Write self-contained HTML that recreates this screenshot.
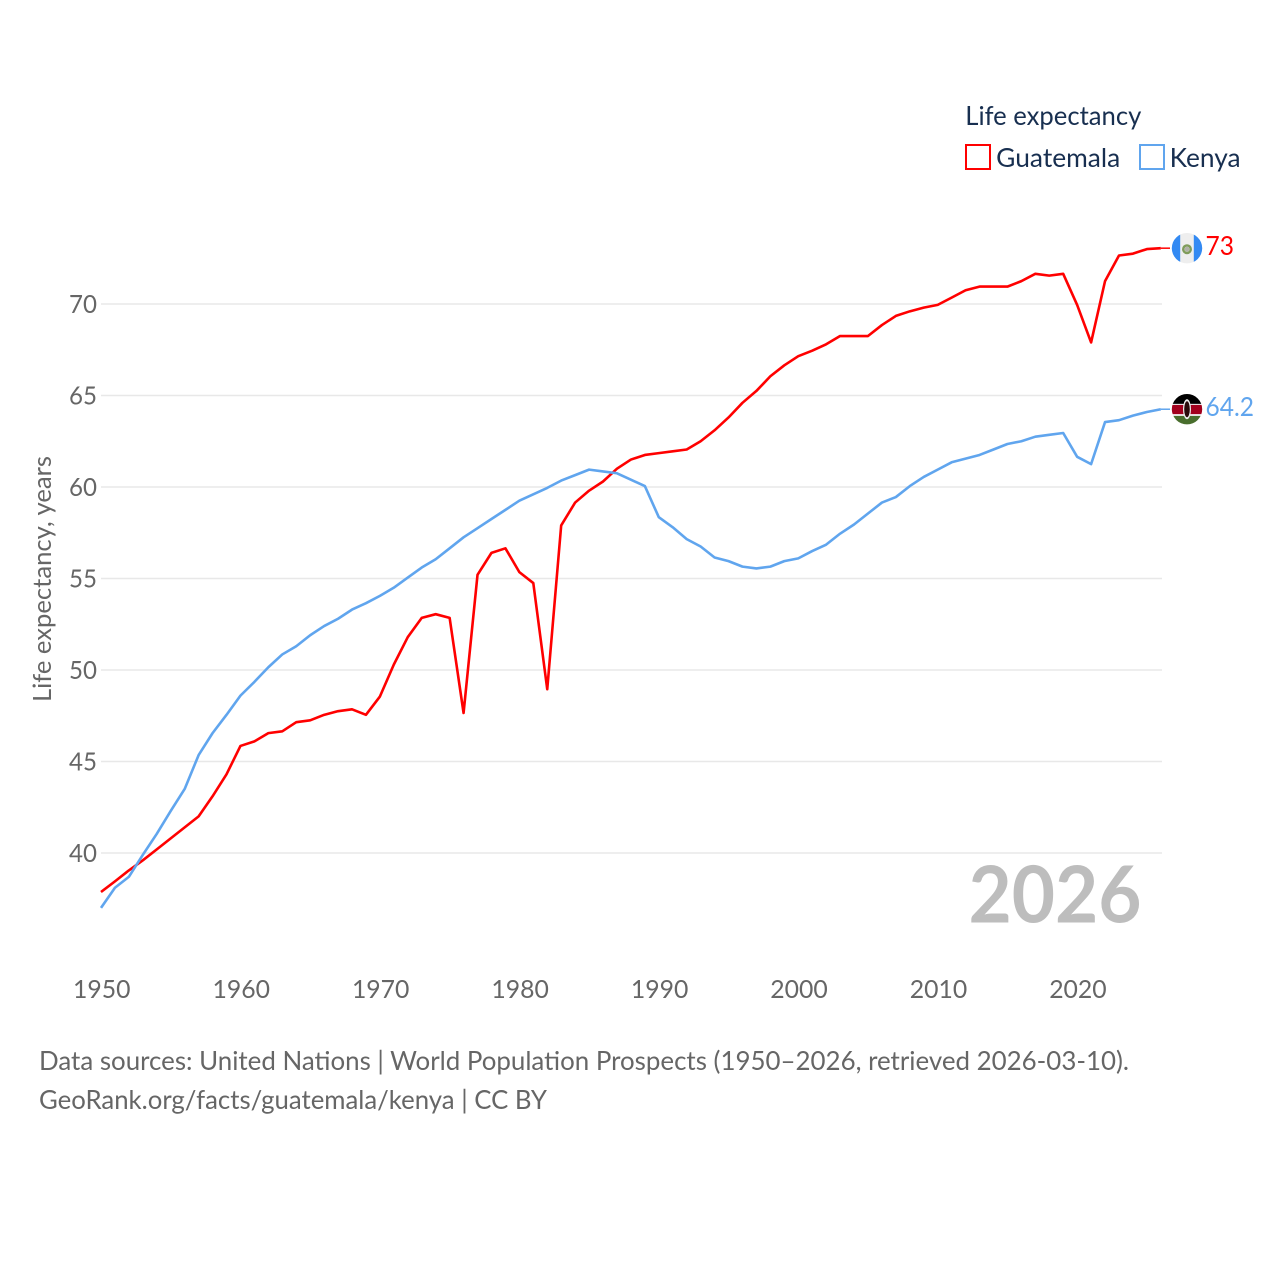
<!DOCTYPE html>
<html lang="en">
<head>
<meta charset="utf-8">
<title>Life expectancy: Guatemala and Kenya</title>
<style>
html,body{margin:0;padding:0;background:#fff;width:1280px;height:1280px;overflow:hidden}
svg{display:block}
text{font-family:Lato,Carlito,"Liberation Sans",sans-serif}
</style>
</head>
<body>
<svg id="chart" xmlns="http://www.w3.org/2000/svg" width="1280" height="1280" viewBox="0 0 1280 1280">
  <defs>
    <clipPath id="flag-clip"><circle cx="0" cy="0" r="15.2"/></clipPath>
  </defs>
  <rect x="0" y="0" width="1280" height="1280" fill="#fff"/>
  <g id="grid"></g>
  <g id="yticks"></g>
  <g id="xticks"></g>
  <text transform="translate(51,702) rotate(-90)" font-size="25.5" fill="#666" textLength="246" lengthAdjust="spacingAndGlyphs">Life expectancy, years</text>
  <text x="968.5" y="922.5" font-size="79" font-weight="700" fill="#bdbdbd" textLength="173" lengthAdjust="spacingAndGlyphs">2026</text>
  <g id="series"></g>
  <g id="flag-guatemala">
    <g clip-path="url(#flag-clip)">
      <rect x="-16" y="-16" width="32" height="32" fill="#eeeeee"/>
      <rect x="-16" y="-16" width="9.2" height="32" fill="#338af3"/>
      <rect x="6.8" y="-16" width="9.2" height="32" fill="#338af3"/>
      <circle cx="0" cy="1" r="3.8" fill="none" stroke="#7f9c5a" stroke-width="2.4"/>
      <circle cx="0" cy="1" r="2.4" fill="#b0b0a8"/>
    </g>
  </g>
  <g id="flag-kenya">
    <g clip-path="url(#flag-clip)">
      <rect x="-16" y="-16" width="32" height="10.7" fill="#000"/>
      <rect x="-16" y="-5.3" width="32" height="1" fill="#eee"/>
      <rect x="-16" y="-4.3" width="32" height="9.3" fill="#a2001d"/>
      <rect x="-16" y="5" width="32" height="1.7" fill="#eee"/>
      <rect x="-16" y="6.7" width="32" height="9.3" fill="#496e2d"/>
      <ellipse cx="0" cy="0" rx="4" ry="10" fill="#eee"/>
      <ellipse cx="0" cy="0" rx="2.8" ry="8" fill="#2a0a0a"/>
    </g>
  </g>
  <g id="end-labels"></g>
  <g>
    <text x="965.3" y="125" font-size="26" fill="#182f50" textLength="176" lengthAdjust="spacingAndGlyphs">Life expectancy</text>
    <g>
      <rect x="966" y="145" width="24" height="24" fill="#fff" stroke="#ff0000" stroke-width="2"/>
      <text x="996.2" y="167" font-size="26" fill="#182f50" textLength="124" lengthAdjust="spacingAndGlyphs">Guatemala</text>
    </g>
    <g>
      <rect x="1140" y="145" width="24" height="24" fill="#fff" stroke="#60a5ee" stroke-width="2"/>
      <text x="1169.6" y="167" font-size="26" fill="#182f50" textLength="71" lengthAdjust="spacingAndGlyphs">Kenya</text>
    </g>
  </g>
  <text x="39" y="1070" font-size="26" fill="#666" textLength="1090" lengthAdjust="spacingAndGlyphs">Data sources: United Nations | World Population Prospects (1950–2026, retrieved 2026-03-10).</text>
  <text x="39" y="1109" font-size="26" fill="#666" textLength="508" lengthAdjust="spacingAndGlyphs">GeoRank.org/facts/guatemala/kenya | CC BY</text>
</svg>
<script>
const startYear = 1950;
const guatemalaValues = [37.87,38.45,39.05,39.6,40.2,40.8,41.4,42.0,43.1,44.3,45.85,46.1,46.55,46.65,47.15,47.25,47.55,47.75,47.85,47.55,48.55,50.3,51.8,52.85,53.05,52.85,47.65,55.2,56.4,56.65,55.35,54.75,48.95,57.9,59.15,59.8,60.3,61.0,61.5,61.75,61.85,61.95,62.05,62.5,63.1,63.8,64.6,65.25,66.05,66.65,67.15,67.45,67.8,68.25,68.25,68.25,68.85,69.35,69.6,69.8,69.95,70.35,70.75,70.95,70.95,70.95,71.25,71.65,71.55,71.65,69.95,67.9,71.25,72.65,72.75,73.0,73.05];
const kenyaValues = [37.0,38.1,38.7,39.9,41.05,42.3,43.5,45.35,46.55,47.55,48.6,49.35,50.15,50.85,51.3,51.9,52.4,52.8,53.3,53.65,54.05,54.5,55.05,55.6,56.05,56.65,57.25,57.75,58.25,58.75,59.25,59.6,59.95,60.35,60.65,60.95,60.85,60.75,60.4,60.05,58.35,57.8,57.15,56.75,56.15,55.95,55.65,55.55,55.65,55.95,56.1,56.5,56.85,57.45,57.95,58.55,59.15,59.45,60.05,60.55,60.95,61.35,61.55,61.75,62.05,62.35,62.5,62.75,62.85,62.95,61.65,61.25,63.55,63.65,63.9,64.1,64.25];
const yTickValues = [40,45,50,55,60,65,70];
const xTickValues = [1950,1960,1970,1980,1990,2000,2010,2020];
const endLabels = ["73","64.2"];

const NS = 'http://www.w3.org/2000/svg';
function xScale(year){ return 101 + (year - 1950) * 13.945; }
function yScale(v){ return 853 - (v - 40) * 18.3; }
function make(tag, attrs, parent){
  const el = document.createElementNS(NS, tag);
  for (const k in attrs) el.setAttribute(k, attrs[k]);
  parent.appendChild(el);
  return el;
}
const gridG = document.getElementById('grid');
const yG = document.getElementById('yticks');
const xG = document.getElementById('xticks');
const seriesG = document.getElementById('series');
const endG = document.getElementById('end-labels');

yTickValues.forEach(function(v){
  const line = make('line', {x1:101, x2:1162, y1:yScale(v), y2:yScale(v), stroke:'#e8e8e8', 'stroke-width':1.5}, gridG);
  
  
  const t = make('text', {x:97, y:yScale(v)+9, 'text-anchor':'end', 'font-size':25.5, fill:'#666', textLength:28, lengthAdjust:'spacingAndGlyphs'}, yG);
  
  
  t.textContent = v;
});
xTickValues.forEach(function(y){
  const t = make('text', {x:xScale(y)+0.8, y:998, 'text-anchor':'middle', 'font-size':25.5, fill:'#666', textLength:57.5, lengthAdjust:'spacingAndGlyphs'}, xG);
  
  
  t.textContent = y;
});
function drawSeries(values, color, key, labelText, labelWidth, flagId){
  const pts = values.map(function(v, i){ return xScale(startYear + i).toFixed(2) + ',' + yScale(v).toFixed(2); });
  const line = make('polyline', {points:pts.join(' '), fill:'none', stroke:color, 'stroke-width':2.6, 'stroke-linejoin':'round'}, seriesG);
  
  
  const lastX = xScale(startYear + values.length - 1);
  const lastY = yScale(values[values.length - 1]);
  const conn = make('line', {x1:lastX, x2:1170, y1:lastY, y2:lastY, stroke:color, 'stroke-width':1.5}, seriesG);
  
  
  document.getElementById(flagId).setAttribute('transform', 'translate(1187,' + lastY.toFixed(2) + ')');
  const t = make('text', {x:1205.5, y:lastY+7, 'font-size':26, fill:color, textLength:labelWidth, lengthAdjust:'spacingAndGlyphs'}, endG);
  
  
  t.textContent = labelText;
}
drawSeries(guatemalaValues, '#ff0000', 'guatemala', endLabels[0], 28.5, 'flag-guatemala');
drawSeries(kenyaValues, '#60a5ee', 'kenya', endLabels[1], 48.5, 'flag-kenya');
</script>
</body>
</html>
